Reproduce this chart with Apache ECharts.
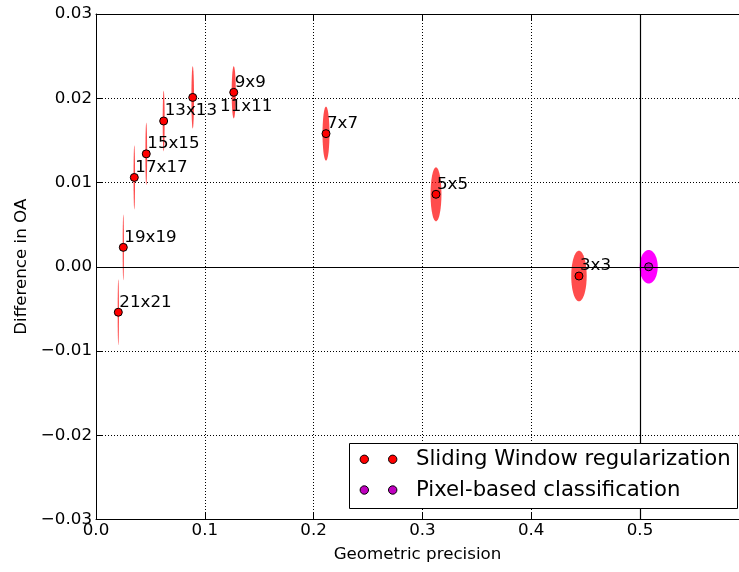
<!DOCTYPE html>
<html>
<head>
<meta charset="utf-8">
<script src="https://cdn.jsdelivr.net/npm/echarts@6/dist/echarts.min.js"></script>
<style>html,body{margin:0;padding:0;background:#fff;}#c{width:739px;height:572px;}</style>
</head>
<body>
<div id="c"></div>
<script>
// ---- data ----
const categories = ['21x21', '19x19', '17x17', '15x15', '13x13', '11x11', '9x9', '7x7', '5x5', '3x3'];
const geoPrecision = [0.0205, 0.0251, 0.0352, 0.0462, 0.0622, 0.0889, 0.1266, 0.2114, 0.3125, 0.4439];
const oaDiff = [-0.0054, 0.0023, 0.0106, 0.0134, 0.0173, 0.0201, 0.0207, 0.0158, 0.0086, -0.0011];
const ellipseHalfWidth = [0.0006, 0.0006, 0.0007, 0.0008, 0.0009, 0.0012, 0.0019, 0.0032, 0.0050, 0.0071];
const ellipseHalfHeight = [0.0039, 0.0039, 0.0038, 0.0037, 0.0036, 0.0037, 0.0031, 0.0032, 0.0032, 0.0030];
const labelX = [0.0205, 0.0251, 0.0352, 0.0462, 0.0622, 0.1131, 0.1266, 0.2114, 0.3125, 0.4439];
const labelY = [-0.0054, 0.0023, 0.0106, 0.0134, 0.0173, 0.0178, 0.0207, 0.0158, 0.0086, -0.0011];
const pixelPrecision = [0.508];
const pixelOaDiff = [0.0000];
const pixelHalfWidth = [0.0083];
const pixelHalfHeight = [0.0020];
const seriesNames = ['Sliding Window regularization', 'Pixel-based classification'];
const xAxisName = 'Geometric precision';
const yAxisName = 'Difference in OA';
const refLineX = 0.5;
const refLineY = 0;

// ---- build ----
const FONT = 'DejaVu Sans';
const slidingEllipses = geoPrecision.map((x, i) => [x, oaDiff[i], ellipseHalfWidth[i], ellipseHalfHeight[i]]);
const pixelEllipses = pixelPrecision.map((x, i) => [x, pixelOaDiff[i], pixelHalfWidth[i], pixelHalfHeight[i]]);
const slidingPoints = geoPrecision.map((x, i) => [x, oaDiff[i]]);
const pixelPoints = pixelPrecision.map((x, i) => [x, pixelOaDiff[i]]);
const labelPoints = labelX.map((x, i) => ({ value: [x, labelY[i]], name: categories[i] }));

function ellipseRenderer(fill) {
  return function (params, api) {
    const c = api.coord([api.value(0), api.value(1)]);
    const s = api.size([api.value(2), api.value(3)]);
    const pts = [];
    const n = 72;
    for (let k = 0; k < n; k++) {
      const t = 2 * Math.PI * k / n;
      pts.push([c[0] + s[0] * Math.cos(t), c[1] + s[1] * Math.sin(t)]);
    }
    return { type: 'polygon', shape: { points: pts }, style: { fill: fill } };
  };
}

const gridDots = { show: true, lineStyle: { color: '#000', width: 1, type: [1, 2] } };
const chart = echarts.init(document.getElementById('c'), null, { renderer: 'canvas' });
const GL = 96, GT = 14, GW = 643, GH = 505.5;
chart.setOption({
  animation: false,
  backgroundColor: '#fff',
  textStyle: { fontFamily: FONT },
  grid: { left: GL, top: GT, width: GW, height: GH },
  xAxis: [{
    type: 'value', min: 0, max: 0.591, interval: 0.1, position: 'bottom',
    name: xAxisName, nameLocation: 'middle', nameGap: 27,
    nameTextStyle: { fontFamily: FONT, fontSize: 16.7, color: '#000' },
    axisLine: { onZero: false, lineStyle: { color: '#000', width: 1 } },
    axisTick: { inside: true, length: 7, lineStyle: { color: '#000' } },
    axisLabel: {
      margin: 3, fontFamily: FONT, fontSize: 16.7, color: '#000', showMaxLabel: false,
      formatter: v => (Math.abs(v * 10 - Math.round(v * 10)) < 1e-6 ? v.toFixed(1) : '')
    },
    splitLine: gridDots
  }, {
    type: 'value', min: 0, max: 0.591, interval: 0.1, position: 'top',
    axisLine: { onZero: false, lineStyle: { color: '#000', width: 1 } },
    axisTick: { inside: true, length: 7, lineStyle: { color: '#000' } },
    axisLabel: { show: false }, splitLine: { show: false }
  }],
  yAxis: [{
    type: 'value', min: -0.03, max: 0.03, interval: 0.01,
    name: yAxisName, nameLocation: 'middle', nameGap: 66,
    nameTextStyle: { fontFamily: FONT, fontSize: 16.7, color: '#000' },
    axisLine: { onZero: false, lineStyle: { color: '#000', width: 1 } },
    axisTick: { inside: true, length: 7, lineStyle: { color: '#000' } },
    axisLabel: {
      margin: 4, fontFamily: FONT, fontSize: 16.7, color: '#000',
      formatter: v => (v < -1e-9 ? '\u2212' + Math.abs(v).toFixed(2) : Math.abs(v).toFixed(2))
    },
    splitLine: gridDots
  }],
  series: [
    {
      type: 'custom', name: seriesNames[0] + ' spread', renderItem: ellipseRenderer('rgba(255,0,0,0.7)'),
      data: slidingEllipses, encode: { x: 0, y: 1 }, z: 2, silent: true
    },
    {
      type: 'custom', name: seriesNames[1] + ' spread', renderItem: ellipseRenderer('#ff00ff'),
      data: pixelEllipses, encode: { x: 0, y: 1 }, z: 2, silent: true
    },
    {
      type: 'scatter', name: seriesNames[0], data: slidingPoints, symbol: 'circle', symbolSize: 8,
      itemStyle: { color: '#ff0000', borderColor: '#000', borderWidth: 1, opacity: 1 }, z: 4
    },
    {
      type: 'scatter', name: seriesNames[1], data: pixelPoints, symbol: 'circle', symbolSize: 8,
      itemStyle: { color: '#bf00bf', borderColor: '#000', borderWidth: 1, opacity: 1 }, z: 4
    },
    {
      type: 'scatter', name: 'labels', data: labelPoints, symbol: 'rect', symbolSize: 1, silent: true, z: 5,
      itemStyle: { color: 'rgba(0,0,0,0)', opacity: 1 },
      label: {
        show: true, position: [1.5, -1], align: 'left', verticalAlign: 'bottom', opacity: 1,
        formatter: p => p.name, fontFamily: FONT, fontSize: 16.7, color: '#000'
      },
      markLine: {
        silent: true, symbol: 'none', label: { show: false }, z: 6,
        lineStyle: { color: '#000', width: 1.2, type: 'solid', opacity: 1 },
        data: [{ xAxis: refLineX }, { yAxis: refLineY }]
      }
    }
  ],
  graphic: [
    { type: 'rect', z: 100, shape: { x: 349.5, y: 443.5, width: 388, height: 65 },
      style: { fill: '#fff', stroke: '#000', lineWidth: 1 } },
    { type: 'circle', z: 101, shape: { cx: 364.3, cy: 459.3, r: 4.2 }, style: { fill: '#ff0000', stroke: '#000', lineWidth: 1 } },
    { type: 'circle', z: 101, shape: { cx: 392.7, cy: 459.3, r: 4.2 }, style: { fill: '#ff0000', stroke: '#000', lineWidth: 1 } },
    { type: 'circle', z: 101, shape: { cx: 364.3, cy: 490, r: 4.2 }, style: { fill: '#bf00bf', stroke: '#000', lineWidth: 1 } },
    { type: 'circle', z: 101, shape: { cx: 392.7, cy: 490, r: 4.2 }, style: { fill: '#bf00bf', stroke: '#000', lineWidth: 1 } },
    { type: 'text', z: 101, x: 416, y: 459.5, style: { text: seriesNames[0], font: '21.2px "DejaVu Sans"', fill: '#000', textVerticalAlign: 'middle', verticalAlign: 'middle' } },
    { type: 'text', z: 101, x: 416, y: 490, style: { text: seriesNames[1], font: '21.2px "DejaVu Sans"', fill: '#000', textVerticalAlign: 'middle', verticalAlign: 'middle' } }
  ]
});
</script>
</body>
</html>
